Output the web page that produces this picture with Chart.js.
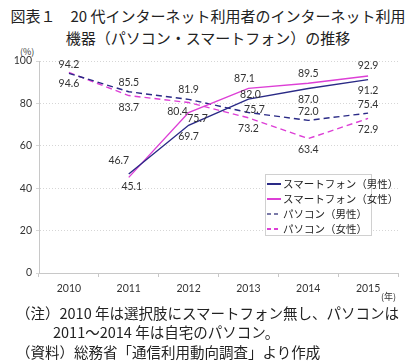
<!DOCTYPE html>
<html>
<head>
<meta charset="utf-8">
<script src="https://cdn.jsdelivr.net/npm/chart.js@4.4.1/dist/chart.umd.min.js"></script>
<style>
  body { margin: 0; background: #fff; width: 416px; height: 364px; position: relative; overflow: hidden;
         font-family: "Noto Sans CJK JP", sans-serif; color: #222; }
  .title { position: absolute; left: 0; width: 416px; text-align: center; font-size: 15px; line-height: 20px; }
  #chartWrap { position: absolute; left: 0; top: 44px; width: 416px; height: 260px; }
  .unit { position: absolute; font-size: 9px; color: #333; }
  #legend { position: absolute; left: 265px; top: 174px; width: 107px; height: 62px; border: 1px solid #d0d0d0;
            background: #fff; font-size: 10.5px; box-sizing: border-box; padding-top: 1px; }
  #legend .row { height: 15px; line-height: 15px; display: flex; align-items: center; white-space: nowrap; }
  #legend .s { flex: 0 0 14px; width: 14px; height: 2px; margin: 0 2px 0 1px; }
  .note { position: absolute; font-size: 14.5px; line-height: 19px; white-space: nowrap; }
</style>
</head>
<body>
<div class="title" style="top:6px;">図表１　20 代インターネット利用者のインターネット利用</div>
<div class="title" style="top:28px;">機器（パソコン・スマートフォン）の推移</div>
<div class="unit" style="left:20px; top:45px;">(%)</div>
<div id="chartWrap"><canvas id="usageChart"></canvas></div>
<div class="unit" style="left:381px; top:290px;">(年)</div>
<div id="legend"></div>
<div class="note" style="left:16px; top:303px;">（注）2010 年は選択肢にスマートフォン無し、パソコンは</div>
<div class="note" style="left:53px; top:322px;">2011～2014 年は自宅のパソコン。</div>
<div class="note" style="left:16px; top:342px;">（資料）総務省「通信利用動向調査」より作成</div>
<script>
const years = ['2010', '2011', '2012', '2013', '2014', '2015'];
const seriesNames = ['スマートフォン（男性）', 'スマートフォン（女性）', 'パソコン（男性）', 'パソコン（女性）'];
const phoneMale = [null, 46.7, 69.7, 82.0, 87.0, 91.2];
const phoneFemale = [null, 45.1, 75.7, 87.1, 89.5, 92.9];
const pcMale = [94.2, 85.5, 81.9, 75.7, 72.0, 75.4];
const pcFemale = [94.6, 83.7, 80.4, 73.2, 63.4, 72.9];
const yTicks = [0, 20, 40, 60, 80, 100];

const navy = '#2a2a86';
const magenta = '#dd3fd6';

// label offsets [dx, dy] per point, so the numbers sit like the original
const labelOffsets = [
    [null, [-10, -13], [0, 11], [2, -5], [0, 11], [0, 11]],
    [null, [3, 9], [9, 6], [-4, -10], [0, -10], [0, -10]],
    [[0, -9], [0, -9], [0, -10], [6, -3], [0, -9], [0, -9]],
    [[0, 11], [0, 12], [-11, 9], [0, 11], [0, 11], [0, 11]]
];

const valueLabels = {
    id: 'valueLabels',
    afterDatasetsDraw(chart) {
        const c = chart.ctx;
        c.save();
        c.font = '10.5px Lato, "Noto Sans", sans-serif';
        c.fillStyle = '#333';
        c.textAlign = 'center';
        c.textBaseline = 'middle';
        chart.data.datasets.forEach((ds, i) => {
            chart.getDatasetMeta(i).data.forEach((pt, j) => {
                const v = ds.data[j];
                if (v == null) return;
                const off = labelOffsets[i][j] || [0, -9];
                c.fillText(v.toFixed(1), pt.x + off[0], pt.y + off[1]);
            });
        });
        c.restore();
    }
};

var ctx = document.getElementById('usageChart').getContext('2d');
var usageChart = new Chart(ctx, {
    type: 'line',
    data: {
        labels: years,
        datasets: [
            { label: seriesNames[0], data: phoneMale, borderColor: navy, borderWidth: 1.4 },
            { label: seriesNames[1], data: phoneFemale, borderColor: magenta, borderWidth: 1.4 },
            { label: seriesNames[2], data: pcMale, borderColor: navy, borderWidth: 1.4, borderDash: [6, 4] },
            { label: seriesNames[3], data: pcFemale, borderColor: magenta, borderWidth: 1.4, borderDash: [6, 4] }
        ]
    },
    options: {
        responsive: true,
        maintainAspectRatio: false,
        animation: false,
        elements: { point: { radius: 0 }, line: { tension: 0 } },
        layout: { padding: { top: 17, right: 18, left: 0, bottom: 0 } },
        plugins: { legend: { display: false }, tooltip: { enabled: false } },
        scales: {
            x: {
                offset: true,
                grid: { display: true, drawOnChartArea: false, offset: true, color: '#c8c8c8', tickLength: 4 },
                border: { color: '#c8c8c8' },
                ticks: { color: '#333', font: { family: 'Lato', size: 10.5 }, padding: 5 },
                afterFit(scale) { scale.height = 31; }
            },
            y: {
                min: 0, max: 100,
                afterBuildTicks(scale) { scale.ticks = yTicks.map(v => ({ value: v })); },
                grid: { color: '#d6d6d6', tickLength: 3, drawTicks: true, tickBorderDash: [] },
                border: { color: '#c8c8c8', display: true, dash: [1, 2] },
                ticks: { color: '#333', font: { family: 'Lato', size: 10.5 }, padding: 4 },
                afterFit(scale) { scale.width = 39; }
            }
        }
    },
    plugins: [valueLabels]
});

// html legend
const legendStyles = [
    'background:' + navy,
    'background:' + magenta,
    'background:repeating-linear-gradient(90deg,#7a7aa8 0 4px,transparent 4px 7px)',
    'background:repeating-linear-gradient(90deg,' + magenta + ' 0 4px,transparent 4px 7px)'
];
document.getElementById('legend').innerHTML = seriesNames.map((n, i) =>
    '<div class="row"><div class="s" style="' + legendStyles[i] + '"></div><span>' + n + '</span></div>').join('');
</script>
</body>
</html>
